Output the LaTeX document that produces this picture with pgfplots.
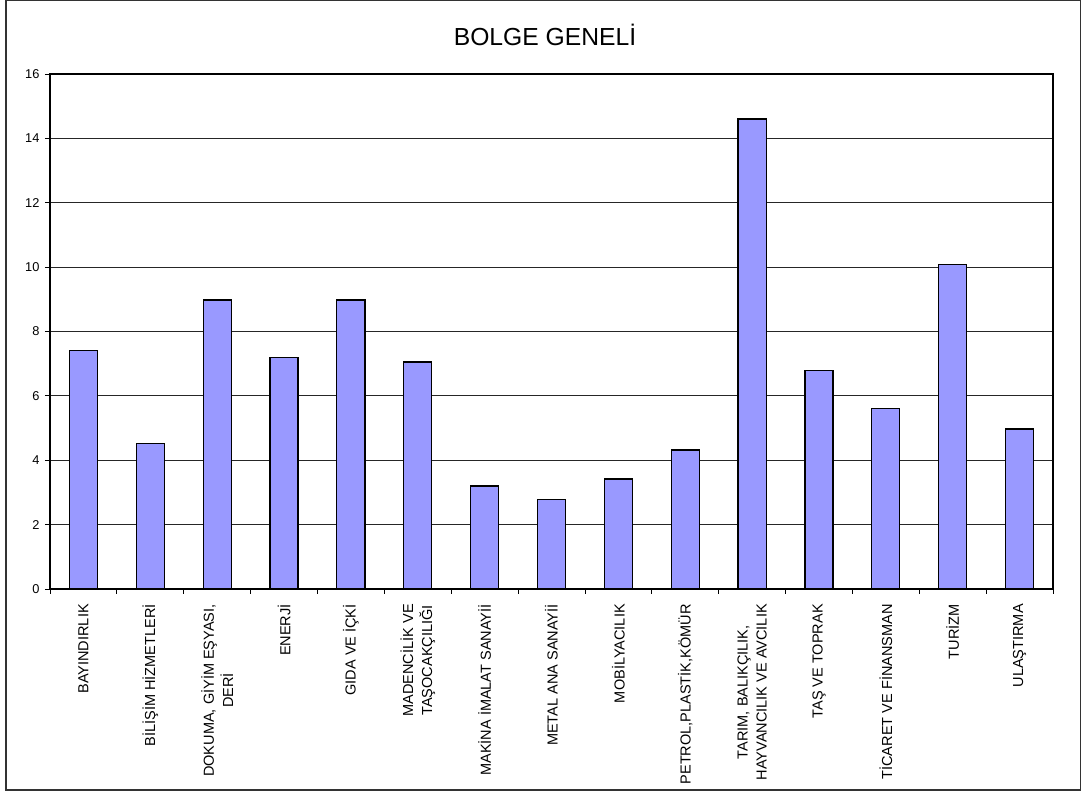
\documentclass[border=0pt]{standalone}
\usepackage{fontspec}
\setmainfont{Liberation Sans}
\usepackage{pgfplots}
\pgfplotsset{compat=1.18}
\definecolor{barfill}{HTML}{9999FF}
\begin{document}
\begin{tikzpicture}
\useasboundingbox (0,0) rectangle (810.75pt,593.25pt);
\draw[line width=1.2pt, black!80] (4.5pt,0.75pt) rectangle (810.4pt,592.9pt);
\node[anchor=base, font=\fontsize{18.5pt}{22pt}\selectfont, inner sep=0pt] at (408.75pt,558.75pt) {BOLGE GENELİ};
\begin{axis}[
  at={(37.5pt,151.5pt)}, anchor=south west,
  scale only axis, width=752.25pt, height=386.25pt,
  xmin=0.5, xmax=15.5, ymin=0, ymax=16,
  ytick={0,2,...,16},
  xtick={1,...,15},
  minor xtick={0.5,1.5,...,15.5},
  xtick pos=bottom, ytick pos=left,
  tick align=outside,
  major tick length=3.75pt, minor tick length=3.75pt,
  tick style={black, line width=0.6pt},
  major x tick style={draw=none},
  ymajorgrids, grid style={black!85, line width=0.6pt},
  axis line style={black, line width=1pt},
  /pgf/number format/assume math mode=true,
  yticklabel style={font=\fontsize{9.6pt}{11pt}\selectfont, inner sep=0pt, xshift=-4pt},
  xticklabel style={font=\fontsize{10.9pt}{14.3pt}\selectfont, rotate=90, anchor=east, align=center, inner sep=0pt},
  xticklabel shift=7.5pt,
  xticklabels={
    BAYINDIRLIK,
    BİLİŞİM HİZMETLERİ,
    {DOKUMA,  GİYİM EŞYASI,\\DERİ},
    ENERJİ,
    GIDA VE İÇKİ,
    {MADENCİLİK VE\\TAŞOCAKÇILIĞI},
    MAKİNA İMALAT SANAYİİ,
    METAL ANA SANAYİİ,
    MOBİLYACILIK,
    {PETROL,PLASTİK,KÖMÜR},
    {TARIM, BALIKÇILIK,\\HAYVANCILIK VE AVCILIK},
    TAŞ VE TOPRAK,
    TİCARET VE FİNANSMAN,
    TURİZM,
    ULAŞTIRMA},
]
\addplot[ybar, bar width=0.42, fill=barfill, draw=black, line width=0.9pt] coordinates {
(1,7.42) (2,4.53) (3,8.98) (4,7.2) (5,8.98) (6,7.05) (7,3.2) (8,2.77)
(9,3.42) (10,4.32) (11,14.6) (12,6.78) (13,5.6) (14,10.07) (15,4.97)
};
\end{axis}
\end{tikzpicture}
\end{document}
